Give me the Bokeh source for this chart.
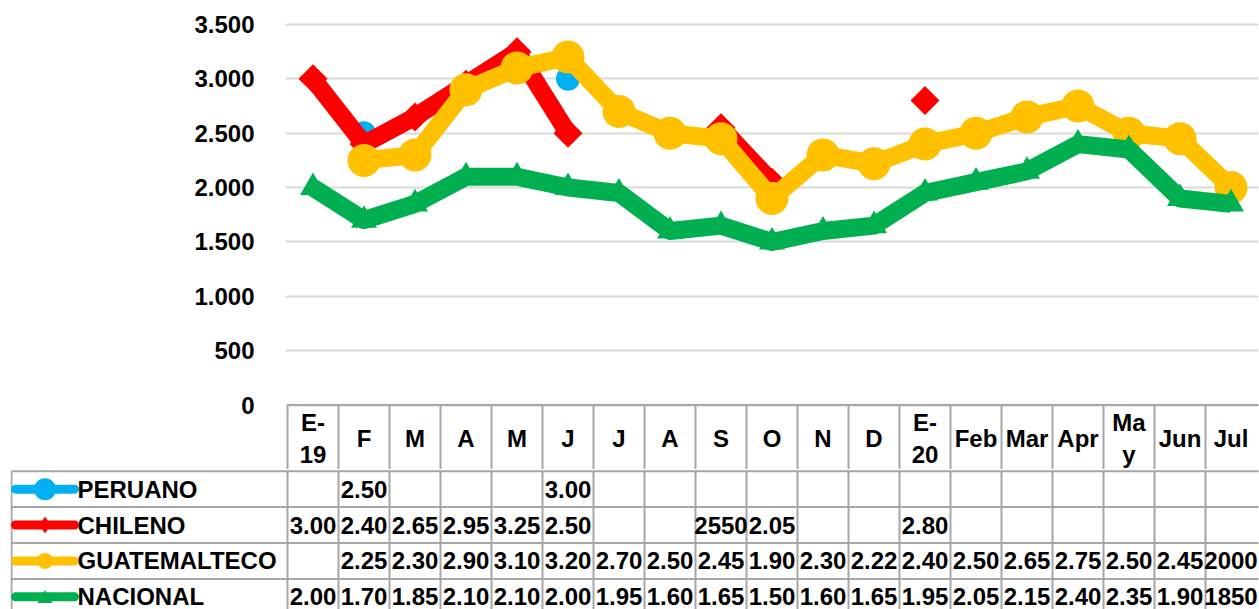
import math
from bokeh.plotting import figure
from bokeh.layouts import column
from bokeh.models import Range1d, FixedTicker
from bokeh.core.properties import value
from bokeh.embed import file_html
from bokeh.resources import INLINE

nan = float("nan")

# ---------------- data ----------------
months = ["E-19", "F", "M", "A", "M", "J", "J", "A", "S", "O", "N", "D",
          "E-20", "Feb", "Mar", "Apr", "May", "Jun", "Jul"]
header_labels = ["E-\n19", "F", "M", "A", "M", "J", "J", "A", "S", "O", "N", "D",
                 "E-\n20", "Feb", "Mar", "Apr", "Ma\ny", "Jun", "Jul"]
series_names = ["PERUANO", "CHILENO", "GUATEMALTECO", "NACIONAL"]

peruano = [nan, 2500, nan, nan, nan, 3000, nan, nan, nan, nan, nan, nan,
           nan, nan, nan, nan, nan, nan, nan]
chileno = [3000, 2400, 2650, 2950, 3250, 2500, nan, nan, 2550, 2050, nan, nan,
           2800, nan, nan, nan, nan, nan, nan]
guatemalteco = [nan, 2250, 2300, 2900, 3100, 3200, 2700, 2500, 2450, 1900, 2300, 2220,
                2400, 2500, 2650, 2750, 2500, 2450, 2000]
nacional = [2000, 1700, 1850, 2100, 2100, 2000, 1950, 1600, 1650, 1500, 1600, 1650,
            1950, 2050, 2150, 2400, 2350, 1900, 1850]

peruano_txt = ["", "2.50", "", "", "", "3.00", "", "", "", "", "", "",
               "", "", "", "", "", "", ""]
chileno_txt = ["3.00", "2.40", "2.65", "2.95", "3.25", "2.50", "", "", "2550", "2.05", "", "",
               "2.80", "", "", "", "", "", ""]
guatemalteco_txt = ["", "2.25", "2.30", "2.90", "3.10", "3.20", "2.70", "2.50", "2.45", "1.90", "2.30", "2.22",
                    "2.40", "2.50", "2.65", "2.75", "2.50", "2.45", "2000"]
nacional_txt = ["2.00", "1.70", "1.85", "2.10", "2.10", "2.00", "1.95", "1.60", "1.65", "1.50", "1.60", "1.65",
                "1.95", "2.05", "2.15", "2.40", "2.35", "1.90", "1850"]

y_ticks = [0, 500, 1000, 1500, 2000, 2500, 3000, 3500]
y_tick_labels = ["0", "500", "1.000", "1.500", "2.000", "2.500", "3.000", "3.500"]

colors = ["#00B0F0", "#FF0000", "#FFC000", "#00B050"]

# ---------------- layout constants ----------------
FONT = value("Liberation Sans")
FS = "24px"
W = 1259
COL = 51.0                 # px per category column
UNIT = 3500 / 380.5        # data units per px (vertical)
BORDER = "#A6A6A6"
n = len(months)
xs = [i + 0.5 for i in range(n)]
SPLIT = 469                # page y where chart figure ends and row table begins

# ---------------- chart (with header row of the data table) ----------------
y_top = 3500 + 8 * UNIT
y_bot = 3500 - (SPLIT - 24) * UNIT
p = figure(width=W, height=SPLIT, title=None,
           x_range=Range1d(-2 / COL, n + 2 / COL), y_range=Range1d(y_bot, y_top),
           x_axis_type=None, output_backend="svg", toolbar_location=None,
           min_border_left=285, min_border_right=1, min_border_top=16, min_border_bottom=0)
p.frame_align = False
p.outline_line_color = None
p.background_fill_color = "white"
p.border_fill_color = "white"

p.yaxis.ticker = FixedTicker(ticks=y_ticks)
p.yaxis.major_label_overrides = {t: l for t, l in zip(y_ticks, y_tick_labels)}
p.yaxis.axis_line_color = None
p.yaxis.major_tick_line_color = None
p.yaxis.minor_tick_line_color = None
p.yaxis.major_label_standoff = 25
p.yaxis.major_label_text_font = "Liberation Sans"
p.yaxis.major_label_text_font_size = FS
p.yaxis.major_label_text_font_style = "bold"
p.yaxis.major_label_text_color = "black"
p.ygrid.ticker = FixedTicker(ticks=y_ticks)
p.ygrid.grid_line_color = "#D9D9D9"
p.ygrid.grid_line_width = 2

# header row borders
p.segment(x0=list(range(n)), y0=[0] * n, x1=list(range(n)), y1=[y_bot] * n,
          line_color=BORDER, line_width=2)
p.segment(x0=[0], y0=[0], x1=[n + 1], y1=[0], line_color=BORDER, line_width=2)
hdr_y = 3500 - (438 - 24) * UNIT
p.text(x=xs, y=[hdr_y] * n, text=header_labels, text_font=FONT, text_font_size=FS,
       text_font_style="bold", text_align="center", text_baseline="middle",
       text_line_height=1.2, text_color="black")

# series
p.line(xs, peruano, line_color=colors[0], line_width=18, line_join="round")
p.scatter(xs, peruano, marker="circle", size=24, fill_color=colors[0], line_color=None)

p.line(xs, chileno, line_color=colors[1], line_width=18, line_join="round")
p.scatter(xs, chileno, marker="square", angle=math.pi / 4, size=20.5,
          fill_color=colors[1], line_color=None)

p.line(xs, guatemalteco, line_color=colors[2], line_width=18, line_join="round")
p.scatter(xs, guatemalteco, marker="circle", size=33, fill_color=colors[2], line_color=None)

p.line(xs, nacional, line_color=colors[3], line_width=18, line_join="round")
p.scatter(xs, nacional, marker="triangle", size=26, fill_color=colors[3], line_color=None)

# ---------------- data table rows ----------------
RH = 35.9
x_left = -(287 - 10) / COL
t = figure(width=W, height=609 - SPLIT, title=None,
           x_range=Range1d(x_left, n + 2 / COL),
           y_range=Range1d((609 - 470.7) / RH, -(470.7 - SPLIT) / RH),
           x_axis_type=None, y_axis_type=None, output_backend="svg", toolbar_location=None,
           min_border_left=10, min_border_right=1, min_border_top=0, min_border_bottom=0)
t.frame_align = False
t.outline_line_color = None
t.background_fill_color = "white"
t.border_fill_color = "white"

leg_left = -(287 - 11) / COL
bottom = 5
t.segment(x0=[leg_left] * 4, y0=[0, 1, 2, 3], x1=[n + 1] * 4, y1=[0, 1, 2, 3],
          line_color=BORDER, line_width=2)
vx = [leg_left] + list(range(n))
t.segment(x0=vx, y0=[0] * len(vx), x1=vx, y1=[bottom] * len(vx),
          line_color=BORDER, line_width=2)

texts = [peruano_txt, chileno_txt, guatemalteco_txt, nacional_txt]
for k, row in enumerate(texts):
    px = [xs[i] for i in range(n) if row[i]]
    pt = [row[i] for i in range(n) if row[i]]
    t.text(x=px, y=[k + 0.5] * len(px), text=pt, text_font=FONT, text_font_size=FS,
           text_font_style="bold", text_align="center", text_baseline="middle",
           text_color="black")

# legend keys
kx0 = (15 - 287) / COL
kx1 = (74 - 287) / COL
kxm = (44.5 - 287) / COL
ky = [k + 0.5 for k in range(4)]
for k in range(4):
    t.line([kx0, kx1], [ky[k], ky[k]], line_color=colors[k], line_width=9, line_cap="round")
t.scatter([kxm], [ky[0]], marker="circle", size=22, fill_color=colors[0], line_color=None)
t.scatter([kxm], [ky[1]], marker="diamond", size=17, fill_color=colors[1], line_color=None)
t.scatter([kxm], [ky[2]], marker="circle", size=16, fill_color=colors[2], line_color=None)
t.scatter([kxm], [ky[3] + 0.05], marker="triangle", size=15, fill_color=colors[3], line_color=None)

t.text(x=[(77 - 287) / COL] * 4, y=ky, text=series_names, text_font=FONT,
       text_font_size=FS, text_font_style="bold", text_align="left",
       text_baseline="middle", text_color="black")

layout = column(p, t, spacing=0)
open("out.html", "w").write(file_html(layout, INLINE))
